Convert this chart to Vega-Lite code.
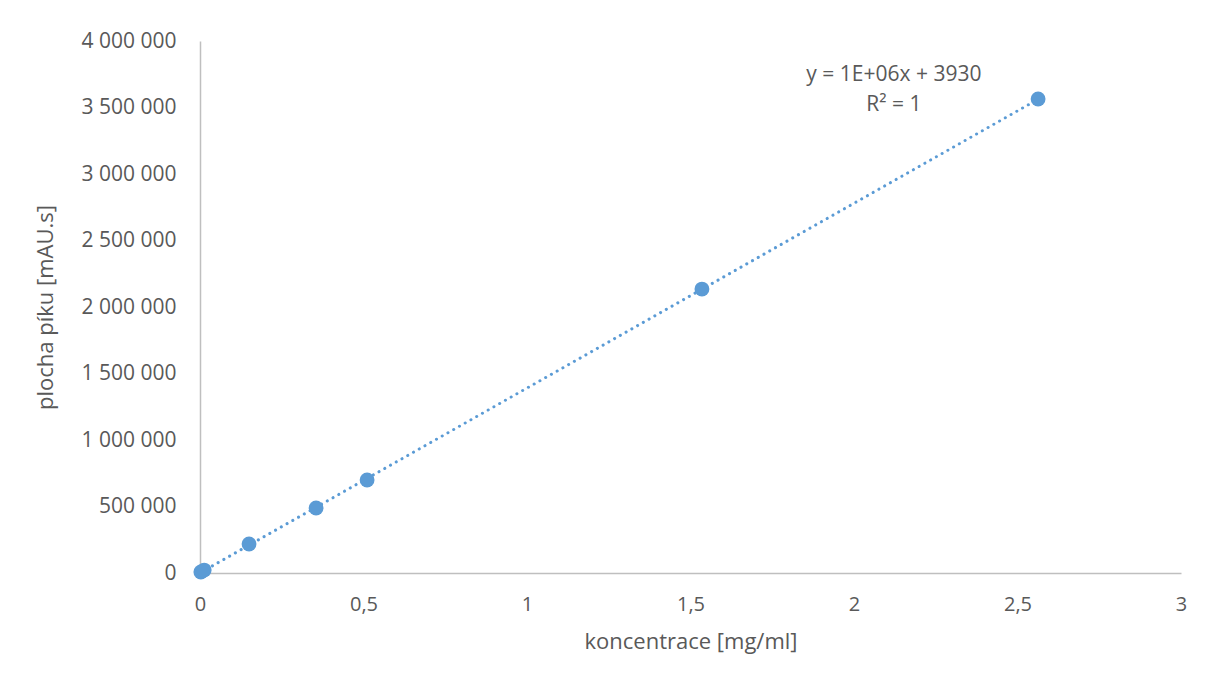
{
  "$schema": "https://vega.github.io/schema/vega-lite/v6.json",
  "width": 981,
  "height": 532,
  "autosize": "none",
  "padding": {"left": 200, "top": 41, "right": 27, "bottom": 113},
  "background": "white",
  "config": {
    "locale": {"number": {"decimal": ",", "thousands": " ", "grouping": [3], "currency": ["", ""]}},
    "view": {"stroke": null},
    "font": "Open Sans"
  },
  "datasets": {
    "points": [
      {"konc": 0.0026, "plocha": 7500},
      {"konc": 0.0128, "plocha": 21700},
      {"konc": 0.15, "plocha": 218000},
      {"konc": 0.355, "plocha": 489000},
      {"konc": 0.511, "plocha": 699000},
      {"konc": 1.535, "plocha": 2135000},
      {"konc": 2.563, "plocha": 3564000}
    ],
    "labels": [
      {"konc": 2.122, "plocha": 3744000, "text": "y = 1E+06x + 3930"},
      {"konc": 2.122, "plocha": 3519000, "text": "R² = 1"}
    ]
  },
  "layer": [
    {
      "data": {"name": "points"},
      "transform": [{"regression": "plocha", "on": "konc", "method": "linear"}],
      "mark": {"type": "line", "color": "#5B9BD5", "strokeWidth": 3, "strokeDash": [0.1, 6.5], "strokeCap": "round"},
      "encoding": {
        "x": {"field": "konc", "type": "quantitative"},
        "y": {"field": "plocha", "type": "quantitative"}
      }
    },
    {
      "data": {"name": "points"},
      "mark": {"type": "circle", "color": "#5B9BD5", "opacity": 1, "size": 220},
      "encoding": {
        "x": {
          "field": "konc", "type": "quantitative",
          "scale": {"domain": [0, 3], "nice": false, "zero": true},
          "axis": {
            "title": "koncentrace [mg/ml]",
            "values": [0, 0.5, 1, 1.5, 2, 2.5, 3],
            "format": "~g",
            "grid": false, "ticks": false, "labelFlush": false,
            "domainColor": "#BFBFBF", "domainWidth": 1.5,
            "labelColor": "#595959", "labelFontSize": 20, "labelPadding": 21,
            "titleColor": "#595959", "titleFontSize": 22, "titleFontWeight": "normal", "titlePadding": 17
          }
        },
        "y": {
          "field": "plocha", "type": "quantitative",
          "scale": {"domain": [0, 4000000], "nice": false},
          "axis": {
            "title": "plocha píku [mAU.s]",
            "values": [0, 500000, 1000000, 1500000, 2000000, 2500000, 3000000, 3500000, 4000000],
            "format": ",d",
            "grid": false, "ticks": false,
            "domainColor": "#BFBFBF", "domainWidth": 1.5,
            "labelColor": "#595959", "labelFontSize": 21, "labelPadding": 24,
            "titleColor": "#595959", "titleFontSize": 22, "titleFontWeight": "normal", "titlePadding": 24
          }
        }
      }
    },
    {
      "data": {"name": "labels"},
      "mark": {"type": "text", "color": "#595959", "fontSize": 21, "align": "center", "baseline": "middle"},
      "encoding": {
        "x": {"field": "konc", "type": "quantitative"},
        "y": {"field": "plocha", "type": "quantitative"},
        "text": {"field": "text"}
      }
    }
  ]
}
